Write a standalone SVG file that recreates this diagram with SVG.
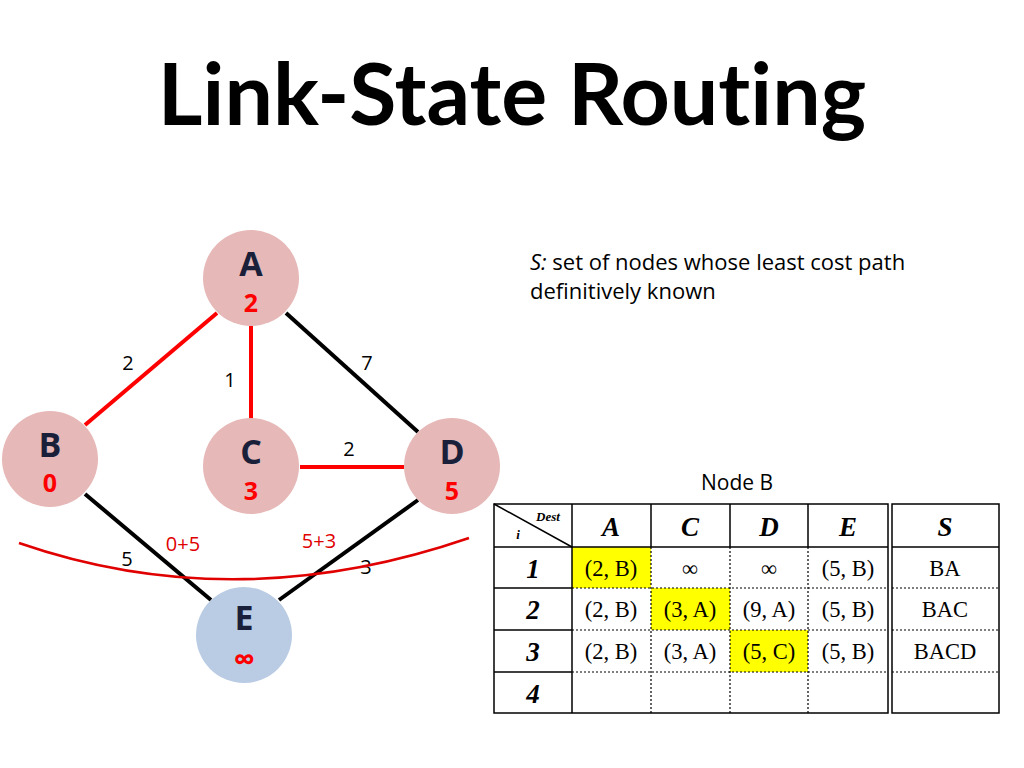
<svg xmlns="http://www.w3.org/2000/svg" width="1024" height="768" viewBox="0 0 1024 768">
<style>
.node circle{stroke:none}
.pink{fill:#e6b8b7}
.blue{fill:#b9cce4}
.lbl{font-family:"Open Sans","Liberation Sans",sans-serif;font-weight:bold;font-size:34px;fill:#1a1f3a;text-anchor:middle}
.val{font-family:"Open Sans","Liberation Sans",sans-serif;font-weight:bold;font-size:25px;fill:#ff0000;text-anchor:middle}
.ew{font-family:"Open Sans","Liberation Sans",sans-serif;font-size:20px;fill:#000;text-anchor:middle}
.ewr{font-family:"Open Sans","Liberation Sans",sans-serif;font-size:20px;fill:#e00000;text-anchor:middle}
.red{stroke:#ff0000;stroke-width:4}
.blk{stroke:#000;stroke-width:4}
.tb{font-family:"Liberation Serif",serif;font-size:22.5px;fill:#000;text-anchor:middle}
.th{font-family:"Liberation Serif",serif;font-size:27px;font-weight:bold;font-style:italic;fill:#000;text-anchor:middle}
.sol{stroke:#000;stroke-width:1.5;fill:none}
.dot{stroke:#000;stroke-width:1.2;stroke-dasharray:2 2;fill:none}
</style>
<rect width="1024" height="768" fill="#fff"/>
<text x="512" y="125" font-family="Lato,'Open Sans',sans-serif" font-weight="bold" font-size="86" text-anchor="middle" fill="#000" style="font-variant-ligatures:none">Link-State Routing</text>
<g id="connectors">
<line class="red" x1="85" y1="425" x2="217" y2="313"/>
<line class="red" x1="251" y1="326" x2="251" y2="419"/>
<line class="blk" x1="286" y1="313" x2="418" y2="432"/>
<line class="red" x1="300" y1="467" x2="404" y2="467"/>
<line class="blk" x1="85" y1="494" x2="211" y2="600"/>
<line class="blk" x1="418" y1="500" x2="279" y2="600"/>
<text class="ew" x="128" y="370">2</text>
<text class="ew" x="230" y="387">1</text>
<text class="ew" x="367" y="370">7</text>
<text class="ew" x="349" y="456">2</text>
<text class="ew" x="127" y="566">5</text>
<text class="ew" x="366" y="574">3</text>
<text class="ewr" x="183" y="551">0+5</text>
<text class="ewr" x="319" y="548">5+3</text>
<path d="M19,543 Q236,618 469,538" fill="none" stroke="#e00000" stroke-width="2.5"/>
</g>
<g id="node-A" class="node"><circle class="pink" cx="251" cy="278" r="48"/><text class="lbl" x="251" y="276">A</text><text class="val" x="251" y="312">2</text></g>
<g id="node-B" class="node"><circle class="pink" cx="50" cy="459" r="48"/><text class="lbl" x="50" y="457">B</text><text class="val" x="50" y="492">0</text></g>
<g id="node-C" class="node"><circle class="pink" cx="251" cy="466" r="48"/><text class="lbl" x="251" y="464">C</text><text class="val" x="251" y="500">3</text></g>
<g id="node-D" class="node"><circle class="pink" cx="452" cy="466" r="48"/><text class="lbl" x="452" y="464">D</text><text class="val" x="452" y="500">5</text></g>
<g id="node-E" class="node"><circle class="blue" cx="244" cy="635" r="48"/><text class="lbl" x="244" y="630">E</text><text class="val" x="244" y="670" style="font-size:30px">∞</text></g>
<text x="530" y="270" font-family="'Open Sans','Liberation Sans',sans-serif" font-size="22" fill="#000"><tspan font-style="italic">S:</tspan> set of nodes whose least cost path</text>
<text x="530" y="299" font-family="'Open Sans','Liberation Sans',sans-serif" font-size="22" fill="#000">definitively known</text>
<text x="737" y="490" font-family="'Open Sans','Liberation Sans',sans-serif" font-size="21" fill="#000" text-anchor="middle">Node B</text>
<g id="table">
<rect x="572" y="547" width="79" height="41" fill="#ffff00"/>
<rect x="651" y="588" width="79" height="42" fill="#ffff00"/>
<rect x="730" y="630" width="78" height="42" fill="#ffff00"/>
<line class="dot" x1="572" y1="588" x2="888" y2="588"/>
<line class="dot" x1="572" y1="630" x2="888" y2="630"/>
<line class="dot" x1="572" y1="672" x2="888" y2="672"/>
<line class="dot" x1="651" y1="547" x2="651" y2="713"/>
<line class="dot" x1="730" y1="547" x2="730" y2="713"/>
<line class="dot" x1="808" y1="547" x2="808" y2="713"/>
<line class="sol" x1="494" y1="588" x2="572" y2="588"/>
<line class="sol" x1="494" y1="630" x2="572" y2="630"/>
<line class="sol" x1="494" y1="672" x2="572" y2="672"/>
<line class="sol" x1="494" y1="547" x2="888" y2="547"/>
<line class="sol" x1="572" y1="504" x2="572" y2="713"/>
<line class="sol" x1="651" y1="504" x2="651" y2="547"/>
<line class="sol" x1="730" y1="504" x2="730" y2="547"/>
<line class="sol" x1="808" y1="504" x2="808" y2="547"/>
<rect class="sol" x="494" y="504" width="394" height="209"/>
<line class="sol" x1="494" y1="504" x2="572" y2="547"/>
<text x="548" y="521" font-family="'Liberation Serif',serif" font-size="13" font-weight="bold" font-style="italic" text-anchor="middle">Dest</text>
<text x="518" y="539" font-family="'Liberation Serif',serif" font-size="13" font-weight="bold" font-style="italic" text-anchor="middle">i</text>
<text class="th" x="611" y="536">A</text>
<text class="th" x="690" y="536">C</text>
<text class="th" x="769" y="536">D</text>
<text class="th" x="848" y="536">E</text>
<text class="th" x="533" y="578">1</text>
<text class="th" x="533" y="619">2</text>
<text class="th" x="533" y="661">3</text>
<text class="th" x="533" y="703">4</text>
<text class="tb" x="611" y="576">(2, B)</text>
<text class="tb" x="690" y="576">∞</text>
<text class="tb" x="769" y="576">∞</text>
<text class="tb" x="848" y="576">(5, B)</text>
<text class="tb" x="611" y="617">(2, B)</text>
<text class="tb" x="690" y="617">(3, A)</text>
<text class="tb" x="769" y="617">(9, A)</text>
<text class="tb" x="848" y="617">(5, B)</text>
<text class="tb" x="611" y="659">(2, B)</text>
<text class="tb" x="690" y="659">(3, A)</text>
<text class="tb" x="769" y="659">(5, C)</text>
<text class="tb" x="848" y="659">(5, B)</text>
</g>
<g id="s-table">
<rect class="sol" x="892" y="504" width="107" height="209"/>
<line class="sol" x1="892" y1="547" x2="999" y2="547"/>
<line class="dot" x1="892" y1="588" x2="999" y2="588"/>
<line class="dot" x1="892" y1="630" x2="999" y2="630"/>
<line class="dot" x1="892" y1="672" x2="999" y2="672"/>
<text class="th" x="945" y="536">S</text>
<text class="tb" x="945" y="576">BA</text>
<text class="tb" x="945" y="617">BAC</text>
<text class="tb" x="945" y="659">BACD</text>
</g>
</svg>
